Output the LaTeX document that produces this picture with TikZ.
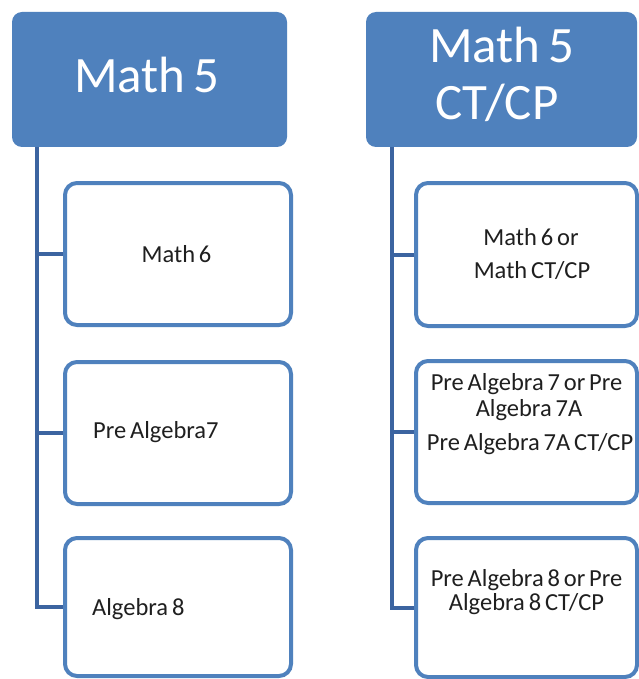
\documentclass[tikz,border=0pt]{standalone}
\usepackage{fontspec}
\setmainfont{Carlito}
\newfontfamily\cfont[WordSpace=0.7]{Carlito}
\definecolor{headblue}{HTML}{4F81BD}
\definecolor{boxblue}{HTML}{4F81BD}
\definecolor{connblue}{HTML}{3C64A0}
\begin{document}
\begin{tikzpicture}[x=1pt,y=-1pt,
  header/.style={rectangle, rounded corners=10pt, fill=headblue, draw=none, inner sep=0pt, outer sep=0pt},
  child/.style={rectangle, rounded corners=12pt, draw=boxblue, fill=white, line width=4pt, inner sep=0pt},
  conn/.style={draw=connblue, line width=4pt},
  htext/.style={text=white, font=\cfont\fontsize{51}{57}\selectfont, inner sep=0pt},
  ctext/.style={text=black!88, font=\cfont\fontsize{24.5}{26}\selectfont, inner sep=0pt}]
\useasboundingbox (0,0) rectangle (638,679);
\fill[white] (0,0) rectangle (638,679);

% headers
\node[header, minimum width=275pt, minimum height=135pt] (h1) at (149.5,79.5) {};
\node[header, minimum width=271pt, minimum height=135pt] (h2) at (501.5,79.5) {};
\node[htext, anchor=base] (h1t) at (147,93) {Math 5};
\node[htext, anchor=base] (h2t1) at (502,63) {Math 5};
\node[htext, anchor=base] (h2t2) at (497,120) {CT/CP};

% spine coordinates
\coordinate (s1top) at (37,147);
\coordinate (s2top) at (392,147);

% left children
\node[child, minimum width=226pt, minimum height=142pt] (a1) at (178,254) {};
\node[child, minimum width=226pt, minimum height=142pt] (a2) at (178,433) {};
\node[child, minimum width=226pt, minimum height=138pt] (a3) at (178,607) {};

% right children
\node[child, minimum width=221pt, minimum height=143pt] (b1) at (526.5,254.5) {};
\node[child, minimum width=221pt, minimum height=142pt] (b2) at (526.5,432) {};
\node[child, minimum width=221pt, minimum height=139pt] (b3) at (526.5,607.5) {};

% connectors
\draw[conn] (s1top) |- (a3.west);
\draw[conn] (a1.west) -- (a1.west -| s1top);
\draw[conn] (a2.west) -- (a2.west -| s1top);
\draw[conn] (s2top) |- (b3.west);
\draw[conn] (b1.west) -- (b1.west -| s2top);
\draw[conn] (b2.west) -- (b2.west -| s2top);

% left texts
\node[ctext, anchor=base] (a1t) at (176.5,262) {Math 6};
\node[ctext, anchor=base west] (a2t) at (93,438) {Pre Algebra7};
\node[ctext, anchor=base west] (a3t) at (92,615) {Algebra 8};

% right texts
\node[ctext, anchor=base] (b1t1) at (531,245) {Math 6 or};
\node[ctext, anchor=base] (b1t2) at (532,278) {Math CT/CP};
\node[ctext, anchor=base] (b2t1) at (526.5,390) {Pre Algebra 7 or Pre};
\node[ctext, anchor=base] (b2t2) at (529,416) {Algebra 7A};
\node[ctext, anchor=base] (b2t3) at (530,450) {Pre Algebra 7A CT/CP};
\node[ctext, anchor=base] (b3t1) at (526.5,586) {Pre Algebra 8 or Pre};
\node[ctext, anchor=base] (b3t2) at (526.5,610) {Algebra 8 CT/CP};
\end{tikzpicture}
\end{document}
